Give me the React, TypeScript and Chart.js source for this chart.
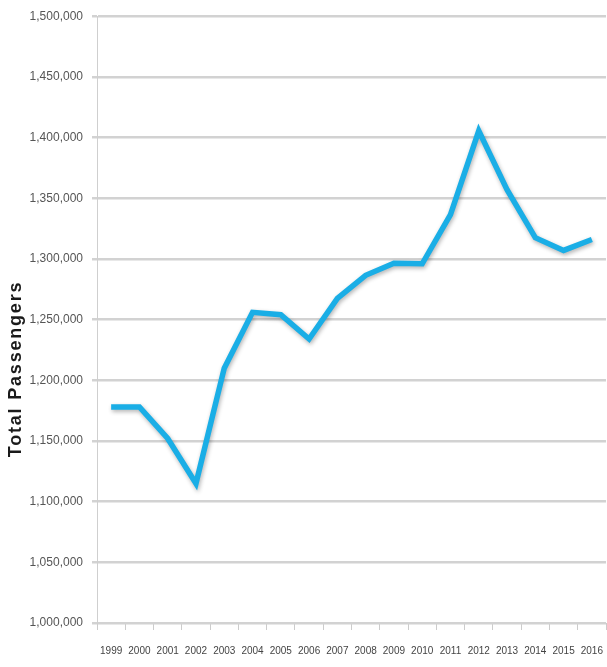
import React, { useEffect, useRef } from "react";
import { Chart, registerables } from "chart.js";

Chart.register(...registerables);

const years = ["1999","2000","2001","2002","2003","2004","2005","2006","2007","2008","2009","2010","2011","2012","2013","2014","2015","2016"];
const passengers = [1178000,1178000,1152000,1115000,1210000,1256000,1254000,1234000,1267500,1286500,1296500,1296000,1336500,1405500,1357000,1317500,1307000,1316000];
const yMin = 1000000;
const yMax = 1500000;
const yStep = 50000;
const yTitle = "Total Passengers";

const titlePlugin = {
  id: "sideTitle",
  afterDraw(chart: any) {
    const ctx = chart.ctx;
    ctx.save();
    ctx.translate(16, 369);
    ctx.rotate(-Math.PI / 2);
    ctx.font = "bold 18px 'Liberation Sans', Arial, sans-serif";
    ctx.fillStyle = "#1a1a1a";
    ctx.textAlign = "center";
    ctx.textBaseline = "middle";
    try { (ctx as any).letterSpacing = "1.8px"; } catch (e) {}
    ctx.fillText(yTitle, 0, 0);
    ctx.restore();
  },
};

const shadowPlugin = {
  id: "lineShadow",
  beforeDatasetsDraw(chart: any) {
    const ctx = chart.ctx;
    ctx.save();
    ctx.shadowColor = "rgba(0,0,0,0.3)";
    ctx.shadowBlur = 4;
    ctx.shadowOffsetX = 1;
    ctx.shadowOffsetY = 2;
  },
  afterDatasetsDraw(chart: any) {
    chart.ctx.restore();
  },
};

export default function App() {
  const ref = useRef<HTMLCanvasElement | null>(null);
  useEffect(() => {
    document.body.style.margin = "0";
    if (!ref.current) return;
    const chart = new Chart(ref.current, {
      type: "line",
      data: {
        labels: years,
        datasets: [
          {
            data: passengers,
            borderColor: "#1aaee6",
            borderWidth: 5.5,
            pointRadius: 0,
            tension: 0,
            fill: false,
            borderJoinStyle: "miter",
          },
        ],
      },
      options: {
        animation: false,
        responsive: false,
        maintainAspectRatio: false,
        layout: { padding: { top: 14, right: 1, left: 0, bottom: 0 } },
        plugins: { legend: { display: false }, tooltip: { enabled: false } },
        scales: {
          x: {
            offset: true,
            grid: {
              offset: true,
              drawOnChartArea: false,
              drawTicks: true,
              tickLength: 7,
              color: "#cccccc",
              lineWidth: 1,
            },
            border: { display: false },
            ticks: {
              color: "#444444",
              padding: 15,
              maxRotation: 0,
              autoSkip: false,
              font: { family: "'Liberation Sans', Arial, sans-serif", size: 10 },
            },
            afterFit(scale: any) {
              scale.height = 44;
              scale.paddingLeft = 0;
              scale.paddingRight = 0;
            },
          },
          y: {
            min: yMin,
            max: yMax,
            grid: {
              color: "#d2d2d2",
              lineWidth: 2.5,
              tickLength: 5,
            },
            border: { display: true, color: "#cfcfcf", width: 1 },
            ticks: {
              stepSize: yStep,
              color: "#555555",
              padding: 9,
              font: { family: "'Liberation Sans', Arial, sans-serif", size: 12 },
              callback: (v: any) => Number(v).toLocaleString("en-US"),
            },
            afterFit(scale: any) {
              scale.width = 97;
            },
          },
        },
      },
      plugins: [shadowPlugin, titlePlugin],
    } as any);
    return () => chart.destroy();
  }, []);
  return <canvas ref={ref} width={607} height={667} style={{ display: "block" }} />;
}
